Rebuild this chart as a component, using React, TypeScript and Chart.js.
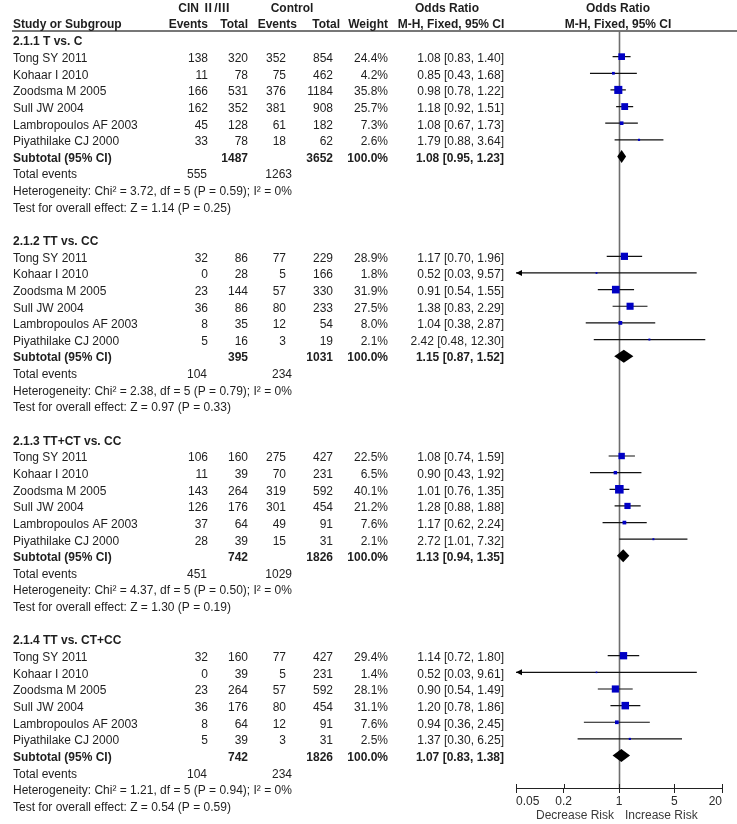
import React, { useEffect, useRef } from 'react';
import { Chart, registerables } from 'chart.js';

Chart.register(...registerables);

// ---------------- data ----------------
const groupTitles = ['2.1.1 T vs. C', '2.1.2 TT vs. CC', '2.1.3 TT+CT vs. CC', '2.1.4 TT vs. CT+CC'];
const studies = ['Tong SY 2011', 'Kohaar I 2010', 'Zoodsma M 2005', 'Sull JW 2004', 'Lambropoulos AF 2003', 'Piyathilake CJ 2000'];

const cinEvents = [[138, 11, 166, 162, 45, 33], [32, 0, 23, 36, 8, 5], [106, 11, 143, 126, 37, 28], [32, 0, 23, 36, 8, 5]];
const cinTotal = [[320, 78, 531, 352, 128, 78], [86, 28, 144, 86, 35, 16], [160, 39, 264, 176, 64, 39], [160, 39, 264, 176, 64, 39]];
const ctrlEvents = [[352, 75, 376, 381, 61, 18], [77, 5, 57, 80, 12, 3], [275, 70, 319, 301, 49, 15], [77, 5, 57, 80, 12, 3]];
const ctrlTotal = [[854, 462, 1184, 908, 182, 62], [229, 166, 330, 233, 54, 19], [427, 231, 592, 454, 91, 31], [427, 231, 592, 454, 91, 31]];
const weights = [[24.4, 4.2, 35.8, 25.7, 7.3, 2.6], [28.9, 1.8, 31.9, 27.5, 8.0, 2.1], [22.5, 6.5, 40.1, 21.2, 7.6, 2.1], [29.4, 1.4, 28.1, 31.1, 7.6, 2.5]];
const orEst = [[1.08, 0.85, 0.98, 1.18, 1.08, 1.79], [1.17, 0.52, 0.91, 1.38, 1.04, 2.42], [1.08, 0.90, 1.01, 1.28, 1.17, 2.72], [1.14, 0.52, 0.90, 1.20, 0.94, 1.37]];
const orLow = [[0.83, 0.43, 0.78, 0.92, 0.67, 0.88], [0.70, 0.03, 0.54, 0.83, 0.38, 0.48], [0.74, 0.43, 0.76, 0.88, 0.62, 1.01], [0.72, 0.03, 0.54, 0.78, 0.36, 0.30]];
const orHigh = [[1.40, 1.68, 1.22, 1.51, 1.73, 3.64], [1.96, 9.57, 1.55, 2.29, 2.87, 12.30], [1.59, 1.92, 1.35, 1.88, 2.24, 7.32], [1.80, 9.61, 1.49, 1.86, 2.45, 6.25]];

const subCinTotal = [1487, 395, 742, 742];
const subCtrlTotal = [3652, 1031, 1826, 1826];
const subWeight = [100.0, 100.0, 100.0, 100.0];
const subEst = [1.08, 1.15, 1.13, 1.07];
const subLow = [0.95, 0.87, 0.94, 0.83];
const subHigh = [1.23, 1.52, 1.35, 1.38];
const totalEventsCin = [555, 104, 451, 104];
const totalEventsCtrl = [1263, 234, 1029, 234];
const chi2 = [3.72, 2.38, 4.37, 1.21];
const dfVals = [5, 5, 5, 5];
const hetP = ['0.59', '0.79', '0.50', '0.94'];
const i2Vals = [0, 0, 0, 0];
const zVals = ['1.14', '0.97', '1.30', '0.54'];
const zP = ['0.25', '0.33', '0.19', '0.59'];

const tickValues = [0.05, 0.2, 1, 5, 20];
const tickLabels = ['0.05', '0.2', '1', '5', '20'];

// ---------------- layout helpers ----------------
const ROWS_PER_GROUP = 12;
const rowTitle = (g: number) => g * ROWS_PER_GROUP;
const rowStudy = (g: number, i: number) => g * ROWS_PER_GROUP + 1 + i;
const rowSub = (g: number) => g * ROWS_PER_GROUP + 7;

const FONT = 'Arial, "Liberation Sans", "Noto Sans CJK SC", sans-serif';
const TEXT = '#1e1e1e';
const BLUE = '#0000c4';

const fmt2 = (v: number) => v.toFixed(2);
const orText = (e: number, l: number, h: number) => `${fmt2(e)} [${fmt2(l)}, ${fmt2(h)}]`;

const forestPlugin = {
  id: 'forestDecor',
  beforeDatasetsDraw(chart: any) {
    const { ctx, chartArea } = chart;
    const x = chart.scales.x;
    ctx.save();
    // header underline
    ctx.strokeStyle = '#4a4a4a';
    ctx.lineWidth = 1.5;
    ctx.beginPath();
    ctx.moveTo(12, chartArea.top);
    ctx.lineTo(chart.width, chartArea.top);
    ctx.stroke();
    // line of no effect
    const x1 = Math.round(x.getPixelForValue(1)) + 0.5;
    ctx.strokeStyle = '#6e6e6e';
    ctx.lineWidth = 1.6;
    ctx.beginPath();
    ctx.moveTo(x1, chartArea.top);
    ctx.lineTo(x1, chartArea.bottom);
    ctx.stroke();
    ctx.restore();
  },
  afterDatasetsDraw(chart: any) {
    const { ctx, chartArea } = chart;
    const xs = chart.scales.x;
    const ys = chart.scales.y;
    const yText = (r: number) => ys.getPixelForValue(r) + 2;
    ctx.save();

    // diamonds
    ctx.fillStyle = '#000';
    for (let g = 0; g < groupTitles.length; g++) {
      const y = ys.getPixelForValue(rowSub(g));
      const xl = xs.getPixelForValue(subLow[g]);
      const xe = xs.getPixelForValue(subEst[g]);
      const xh = xs.getPixelForValue(subHigh[g]);
      ctx.beginPath();
      ctx.moveTo(xl, y);
      ctx.lineTo(xe, y - 6.5);
      ctx.lineTo(xh, y);
      ctx.lineTo(xe, y + 6.5);
      ctx.closePath();
      ctx.fill();
    }

    // arrows where CI leaves the axis range
    ctx.fillStyle = '#000';
    for (let g = 0; g < groupTitles.length; g++) {
      for (let i = 0; i < studies.length; i++) {
        const y = ys.getPixelForValue(rowStudy(g, i));
        if (orLow[g][i] < xs.min) {
          const x0 = chartArea.left;
          ctx.beginPath();
          ctx.moveTo(x0, y);
          ctx.lineTo(x0 + 6, y - 3);
          ctx.lineTo(x0 + 6, y + 3);
          ctx.closePath();
          ctx.fill();
        }
        if (orHigh[g][i] > xs.max) {
          const x0 = chartArea.right;
          ctx.beginPath();
          ctx.moveTo(x0, y);
          ctx.lineTo(x0 - 6, y - 3);
          ctx.lineTo(x0 - 6, y + 3);
          ctx.closePath();
          ctx.fill();
        }
      }
    }

    // small upward tick marks on the axis
    ctx.strokeStyle = '#222';
    ctx.lineWidth = 1;
    for (const v of tickValues) {
      const px = Math.round(xs.getPixelForValue(v)) + 0.5;
      ctx.beginPath();
      ctx.moveTo(px, chartArea.bottom - 4);
      ctx.lineTo(px, chartArea.bottom);
      ctx.stroke();
    }

    // text
    const put = (s: string, x: number, y: number, align: CanvasTextAlign, bold = false, color = TEXT) => {
      ctx.font = `${bold ? 'bold ' : ''}12px ${FONT}`;
      ctx.fillStyle = color;
      ctx.textAlign = align;
      ctx.textBaseline = 'middle';
      ctx.fillText(s, x, y);
    };

    // headers
    put('CIN Ⅱ/Ⅲ', 204, 9, 'center', true);
    put('Control', 292, 9, 'center', true);
    put('Odds Ratio', 447, 9, 'center', true);
    put('Odds Ratio', 618, 9, 'center', true);
    put('Study or Subgroup', 13, 25, 'left', true);
    put('Events', 208, 25, 'right', true);
    put('Total', 248, 25, 'right', true);
    put('Events', 297, 25, 'right', true);
    put('Total', 340, 25, 'right', true);
    put('Weight', 388, 25, 'right', true);
    put('M-H, Fixed, 95% CI', 451, 25, 'center', true);
    put('M-H, Fixed, 95% CI', 618, 25, 'center', true);

    for (let g = 0; g < groupTitles.length; g++) {
      put(groupTitles[g], 13, yText(rowTitle(g)), 'left', true);
      for (let i = 0; i < studies.length; i++) {
        const y = yText(rowStudy(g, i));
        put(studies[i], 13, y, 'left');
        put(String(cinEvents[g][i]), 208, y, 'right');
        put(String(cinTotal[g][i]), 248, y, 'right');
        put(String(ctrlEvents[g][i]), 286, y, 'right');
        put(String(ctrlTotal[g][i]), 333, y, 'right');
        put(`${weights[g][i].toFixed(1)}%`, 388, y, 'right');
        put(orText(orEst[g][i], orLow[g][i], orHigh[g][i]), 504, y, 'right');
      }
      const ys2 = yText(rowSub(g));
      put('Subtotal (95% CI)', 13, ys2, 'left', true);
      put(String(subCinTotal[g]), 248, ys2, 'right', true);
      put(String(subCtrlTotal[g]), 333, ys2, 'right', true);
      put(`${subWeight[g].toFixed(1)}%`, 388, ys2, 'right', true);
      put(orText(subEst[g], subLow[g], subHigh[g]), 504, ys2, 'right', true);

      const yt = yText(rowSub(g) + 1);
      put('Total events', 13, yt, 'left');
      put(String(totalEventsCin[g]), 207, yt, 'right');
      put(String(totalEventsCtrl[g]), 292, yt, 'right');

      put(`Heterogeneity: Chi² = ${fmt2(chi2[g])}, df = ${dfVals[g]} (P = ${hetP[g]}); I² = ${i2Vals[g]}%`, 13, yText(rowSub(g) + 2), 'left');
      put(`Test for overall effect: Z = ${zVals[g]} (P = ${zP[g]})`, 13, yText(rowSub(g) + 3), 'left');
    }

    // axis captions
    const x1 = xs.getPixelForValue(1);
    put('Decrease Risk', x1 - 5, 816, 'right', false, '#3a3a3a');
    put('Increase Risk', x1 + 6, 816, 'left', false, '#3a3a3a');

    ctx.restore();
  },
};

export default function App() {
  const ref = useRef<HTMLCanvasElement | null>(null);

  useEffect(() => {
    document.body.style.margin = '0';
    const canvas = ref.current;
    if (!canvas) return;

    const pointData: { x: number; y: number }[] = [];
    const pointSides: number[] = [];
    const ciData: { x: number | null; y: number | null }[] = [];
    for (let g = 0; g < groupTitles.length; g++) {
      for (let i = 0; i < studies.length; i++) {
        const r = rowStudy(g, i);
        pointData.push({ x: orEst[g][i], y: r });
        pointSides.push(1.35 * Math.sqrt(weights[g][i]));
        ciData.push({ x: orLow[g][i], y: r }, { x: orHigh[g][i], y: r }, { x: null, y: null });
      }
    }

    const chart = new Chart(canvas, {
      type: 'scatter',
      data: {
        datasets: [
          {
            label: 'Studies',
            data: pointData,
            pointStyle: 'rect',
            backgroundColor: BLUE,
            borderColor: BLUE,
            borderWidth: 0,
            pointRadius: (c: any) => pointSides[c.dataIndex] / Math.SQRT2,
            pointHoverRadius: (c: any) => pointSides[c.dataIndex] / Math.SQRT2,
          } as any,
          {
            label: 'CI',
            data: ciData,
            showLine: true,
            spanGaps: false,
            borderColor: '#111',
            borderWidth: 1.2,
            pointRadius: 0,
            pointHoverRadius: 0,
          } as any,
        ],
      },
      options: {
        responsive: false,
        maintainAspectRatio: false,
        animation: false,
        devicePixelRatio: 1,
        events: [],
        layout: { padding: { top: 31, left: 516, right: 15, bottom: 6 } },
        plugins: { legend: { display: false }, tooltip: { enabled: false } },
        scales: {
          x: {
            type: 'logarithmic',
            position: 'bottom',
            min: 0.05,
            max: 20,
            afterBuildTicks: (s: any) => {
              s.ticks = tickValues.map((v) => ({ value: v }));
            },
            afterFit: (s: any) => {
              s.height = 30;
            },
            ticks: {
              autoSkip: false,
              maxRotation: 0,
              minRotation: 0,
              align: 'inner',
              padding: 1,
              color: '#2a2a2a',
              font: { family: FONT, size: 12 },
              callback: (v: any) => {
                const i = tickValues.indexOf(Number(v));
                return i >= 0 ? tickLabels[i] : '';
              },
            },
            grid: { display: true, drawOnChartArea: false, drawTicks: true, tickLength: 5, color: '#222' },
            border: { display: true, color: '#222', width: 1 },
          },
          y: {
            type: 'linear',
            display: false,
            reverse: true,
            min: -0.541,
            max: 44.95,
          },
        },
      } as any,
      plugins: [forestPlugin],
    });

    return () => chart.destroy();
  }, []);

  return (
    <div style={{ width: 737, height: 824, background: '#fff' }}>
      <canvas ref={ref} width={737} height={824} style={{ display: 'block', width: 737, height: 824 }} />
    </div>
  );
}
